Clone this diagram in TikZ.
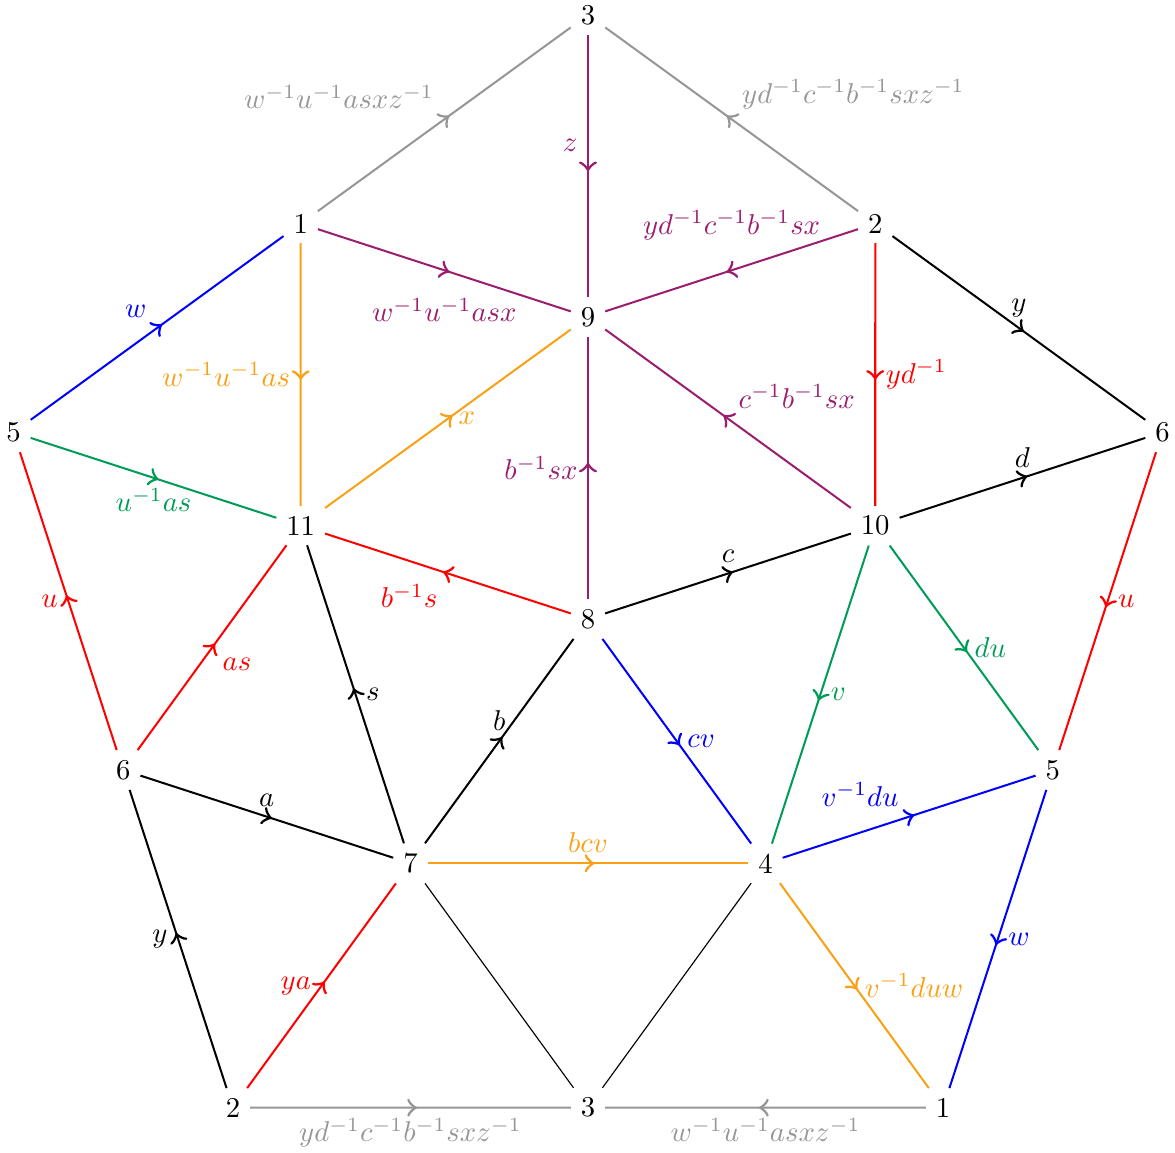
\documentclass[tikz,border=0pt]{standalone}
\usepackage{tikz}
\usetikzlibrary{decorations.markings}
\definecolor{cgray}{RGB}{150,150,150}
\definecolor{cplum}{RGB}{155,30,110}
\definecolor{corange}{RGB}{250,160,20}
\definecolor{cgreen}{RGB}{0,155,85}

\begin{document}
\begin{tikzpicture}[
            vtx/.style={inner sep=3.3pt},
            link/.style={line width=0.7pt, postaction={decorate},
              decoration={markings, mark=at position 0.52 with {\arrow[scale=1.4]{to}}}},
            plain/.style={thin}
        ]
            \useasboundingbox (-7.203,-6.530) rectangle (7.191,7.583);

            % --- outer pentagon ---
            \node[vtx] (o3) at (90:7.4) {3};
            \node[vtx] (o6) at (18:7.4) {6};
            \node[vtx] (o1) at (-54:7.4) {1};
            \node[vtx] (o2) at (234:7.4) {2};
            \node[vtx] (o5) at (162:7.4) {5};

            % --- middle ring ---
            \node[vtx] (m1) at (126:5.987) {1};
            \node[vtx] (m2) at (54:5.987) {2};
            \node[vtx] (m6) at (198:5.987) {6};
            \node[vtx] (m5) at (342:5.987) {5};
            \node[vtx] (m3) at (270:5.987) {3};

            % --- inner pentagon ---
            \node[vtx] (i9) at (90:3.7) {9};
            \node[vtx] (i10) at (18:3.7) {10};
            \node[vtx] (i4) at (-54:3.7) {4};
            \node[vtx] (i7) at (234:3.7) {7};
            \node[vtx] (i11) at (162:3.7) {11};
            \node[vtx] (c8) at (0,0) {8};

            % gray
            \draw[link, cgray] (m1) -- node[above left] {$w^{-1}u^{-1}asxz^{-1}$} (o3);
            \draw[link, cgray] (m2) -- node[above right] {$yd^{-1}c^{-1}b^{-1}sxz^{-1}$} (o3);
            \draw[link, cgray] (o2) -- node[below] {$yd^{-1}c^{-1}b^{-1}sxz^{-1}$} (m3);
            \draw[link, cgray] (o1) -- node[below] {$w^{-1}u^{-1}asxz^{-1}$} (m3);

            % plum
            \draw[link, cplum] (o3) -- node[left, pos=0.42] {$z$} (i9);
            \draw[link, cplum] (m1) -- node[below=6pt] {$w^{-1}u^{-1}asx$} (i9);
            \draw[link, cplum] (m2) -- node[above=7pt] {$yd^{-1}c^{-1}b^{-1}sx$} (i9);
            \draw[link, cplum] (i10) -- node[above right] {$c^{-1}b^{-1}sx$} (i9);
            \draw[link, cplum] (c8) -- node[left] {$b^{-1}sx$} (i9);

            % orange
            \draw[link, corange] (m1) -- node[left] {$w^{-1}u^{-1}as$} (i11);
            \draw[link, corange] (i11) -- node[right] {$x$} (i9);
            \draw[link, corange] (i7) -- node[above] {$bcv$} (i4);
            \draw[link, corange] (i4) -- node[right] {$v^{-1}duw$} (o1);

            % blue
            \draw[link, blue] (o5) -- node[above left] {$w$} (m1);
            \draw[link, blue] (c8) -- node[right] {$cv$} (i4);
            \draw[link, blue] (i4) -- node[above left] {$v^{-1}du$} (m5);
            \draw[link, blue] (m5) -- node[right] {$w$} (o1);

            % green
            \draw[link, cgreen] (o5) -- node[below] {$u^{-1}as$} (i11);
            \draw[link, cgreen] (i10) -- node[right] {$v$} (i4);
            \draw[link, cgreen] (i10) -- node[right] {$du$} (m5);

            % red
            \draw[link, red] (m2) -- node[right] {$yd^{-1}$} (i10);
            \draw[link, red] (o6) -- node[right] {$u$} (m5);
            \draw[link, red] (m6) -- node[left] {$u$} (o5);
            \draw[link, red] (m6) -- node[below right] {$as$} (i11);
            \draw[link, red] (c8) -- node[below left] {$b^{-1}s$} (i11);
            \draw[link, red] (o2) -- node[left] {$ya$} (i7);

            % black
            \draw[link] (m2) -- node[above] {$y$} (o6);
            \draw[link] (i10) -- node[above] {$d$} (o6);
            \draw[link] (c8) -- node[above] {$c$} (i10);
            \draw[link] (i7) -- node[right] {$s$} (i11);
            \draw[link] (i7) -- node[above] {$b$} (c8);
            \draw[link] (m6) -- node[above] {$a$} (i7);
            \draw[link] (o2) -- node[left] {$y$} (m6);
            \draw[plain] (i7) -- (m3);
            \draw[plain] (i4) -- (m3);
        \end{tikzpicture}
\end{document}
